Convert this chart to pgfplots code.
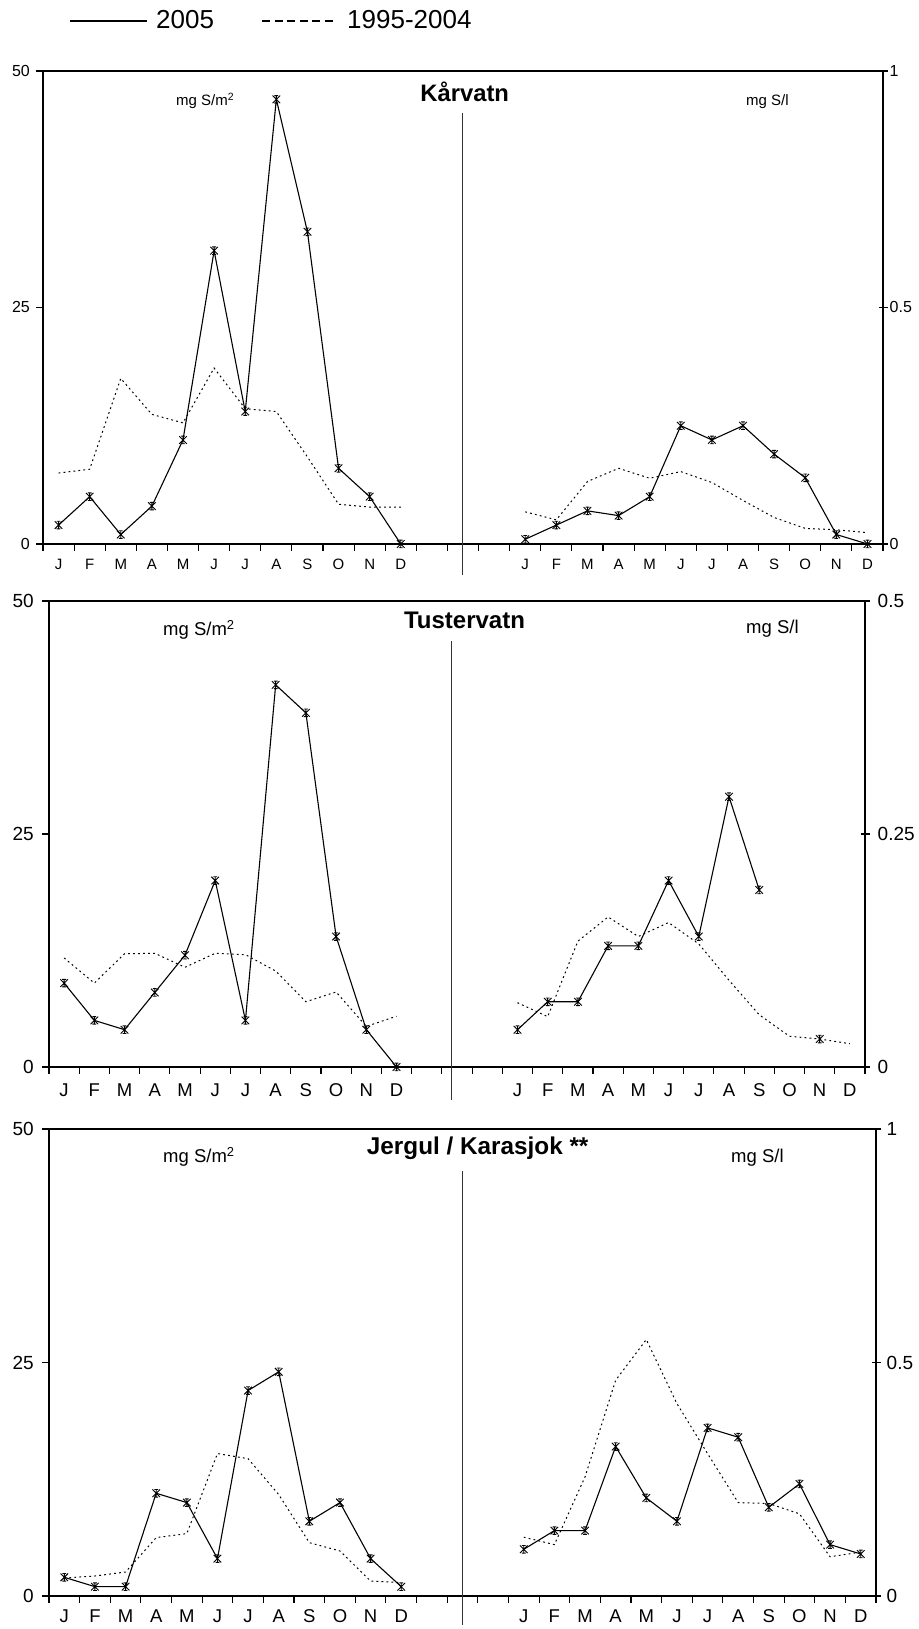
\documentclass[border=0pt]{standalone}
\usepackage{fontspec}
\setmainfont{Liberation Sans}
\usepackage{pgfplots}
\usepackage{pgfplotstable}
\pgfplotsset{compat=1.18}

\newcommand{\fs}[1]{\fontsize{#1}{#1}\selectfont}

% star marker: a cross with a vertical stroke and short caps
\pgfdeclareplotmark{xstar}{%
  \pgfpathmoveto{\pgfqpoint{-\pgfplotmarksize}{-\pgfplotmarksize}}%
  \pgfpathlineto{\pgfqpoint{\pgfplotmarksize}{\pgfplotmarksize}}%
  \pgfpathmoveto{\pgfqpoint{-\pgfplotmarksize}{\pgfplotmarksize}}%
  \pgfpathlineto{\pgfqpoint{\pgfplotmarksize}{-\pgfplotmarksize}}%
  \pgfpathmoveto{\pgfqpoint{0pt}{-\pgfplotmarksize}}%
  \pgfpathlineto{\pgfqpoint{0pt}{\pgfplotmarksize}}%
  \pgfpathmoveto{\pgfqpoint{-0.5\pgfplotmarksize}{\pgfplotmarksize}}%
  \pgfpathlineto{\pgfqpoint{0.5\pgfplotmarksize}{\pgfplotmarksize}}%
  \pgfpathmoveto{\pgfqpoint{-0.5\pgfplotmarksize}{-\pgfplotmarksize}}%
  \pgfpathlineto{\pgfqpoint{0.5\pgfplotmarksize}{-\pgfplotmarksize}}%
  \pgfusepathqstroke
}

% Kaarvatn: deposition (mg S/m2) and concentration (mg S/l), 2005 and 1995-2004 mean
\pgfplotstableread{
m s d
1 2 7.5
2 5 7.9
3 1 17.5
4 4 13.7
5 11 12.8
6 31 18.6
7 14 14.3
8 47 14.0
9 33 9.2
10 8 4.2
11 5 3.9
12 0 3.9
}\karL
\pgfplotstableread{
m s d
16 0.01 0.068
17 0.04 0.051
18 0.07 0.132
19 0.06 0.160
20 0.10 0.139
21 0.25 0.153
22 0.22 0.130
23 0.25 0.092
24 0.19 0.056
25 0.14 0.033
26 0.02 0.030
27 0 0.024
}\karR

% Tustervatn
\pgfplotstableread{
m s d
1 9 11.7
2 5 9.0
3 4 12.15
4 8 12.2
5 12 10.7
6 20 12.2
7 5 12.05
8 41 10.3
9 38 7.0
10 14 8.05
11 4 4.35
12 0 5.45
}\tusL
\pgfplotstableread{
m s d
16 0.04 0.069
17 0.07 0.054
18 0.07 0.135
19 0.13 0.161
20 0.13 0.140
21 0.20 0.155
22 0.14 0.132
23 0.29 0.093
24 0.19 0.056
25 nan 0.033
26 0.03 0.030
27 nan 0.025
}\tusR

% Jergul / Karasjok
\pgfplotstableread{
m s d
1 2 1.93
2 1 2.14
3 1 2.57
4 11 6.25
5 10 6.68
6 4 15.25
7 22 14.7
8 24 10.86
9 8 5.71
10 10 4.82
11 4 1.6
12 1 1.43
}\jerL
\pgfplotstableread{
m s d
16 0.10 0.126
17 0.14 0.110
18 0.14 0.255
19 0.32 0.462
20 0.21 0.549
21 0.16 0.412
22 0.36 0.305
23 0.34 0.200
24 0.19 0.198
25 0.24 0.176
26 0.11 0.084
27 0.09 0.094
}\jerR

\pgfplotsset{
  panel/.style={
    scale only axis, anchor=south west, clip=false,
    xmin=0.5, xmax=27.5,
    axis line style={black, line width=1.1pt},
    every tick/.style={black, line width=1.1pt},
    unbounded coords=jump,
  },
  leftax/.style={panel,
    ymin=0, ymax=50, ytick={0,25,50}, yticklabels={0,25,50},
    xtick={0.5,1.5,2.5,3.5,4.5,5.5,6.5,7.5,8.5,9.5,10.5,11.5,12.5,13.5,
           14.5,15.5,16.5,17.5,18.5,19.5,20.5,21.5,22.5,23.5,24.5,25.5,26.5,27.5},
    xticklabels={J,F,M,A,M,J,J,A,S,O,N,D,,,,J,F,M,A,M,J,J,A,S,O,N,D,},
    xtick pos=bottom, ytick pos=left, tick align=outside, major tick length=7pt,
  },
  rightax/.style={panel, axis x line=none, axis y line*=right,
    ymin=0, tick align=center, major tick length=9pt},
  s2005/.style={black, line width=1.1pt, mark=xstar, mark size=3.8pt,
    mark options={solid, line width=0.9pt}},
  smean/.style={black, line width=1pt, dash pattern=on 1.8pt off 3.2pt, mark=none},
}

\begin{document}
\begin{tikzpicture}
\useasboundingbox (0pt,0pt) rectangle (918pt,1629pt);

% legend
\draw[line width=1.3pt] (70pt,1608pt) -- (147pt,1608pt);
\node[anchor=base west, inner sep=0pt, font=\fs{26}] at (156pt,1600.7pt) {2005};
\draw[line width=1.3pt, dash pattern=on 8pt off 4.5pt] (262pt,1608pt) -- (337pt,1608pt);
\node[anchor=base west, inner sep=0pt, font=\fs{26}] at (347pt,1600.7pt) {1995-2004};

% ---------- Kaarvatn ----------
\begin{axis}[leftax, at={(43pt,1085pt)}, width=840pt, height=473pt,
  yticklabel style={font=\fs{16}, anchor=east, inner sep=0pt, xshift=-6pt},
  xticklabel style={font=\fs{15}, anchor=base, inner sep=0pt, xshift=15.56pt, yshift=-19pt}]
  \addplot[smean] table[x=m, y=d] {\karL};
  \addplot[s2005] table[x=m, y=s] {\karL};
\end{axis}
\begin{axis}[rightax, at={(43pt,1085pt)}, width=840pt, height=473pt,
  ymax=1, ytick={0,0.5,1}, yticklabels={0,0.5,1},
  yticklabel style={font=\fs{16}, anchor=west, inner sep=0pt, xshift=2pt}]
  \addplot[smean] table[x=m, y=d] {\karR};
  \addplot[s2005] table[x=m, y=s] {\karR};
\end{axis}
\draw[black!80, line width=1pt] (462.7pt,1516pt) -- (462.7pt,1054pt);
\node[anchor=base, inner sep=0pt, font=\bfseries\fs{23.8}] at (464.7pt,1527pt) {Kårvatn};
\node[anchor=base west, inner sep=0pt, font=\fs{15}] at (176pt,1523pt) {mg S/m\textsuperscript{2}};
\node[anchor=base west, inner sep=0pt, font=\fs{15}] at (746pt,1523pt) {mg S/l};

% ---------- Tustervatn ----------
\begin{axis}[leftax, at={(49pt,562pt)}, width=816pt, height=466pt,
  yticklabel style={font=\fs{19}, anchor=east, inner sep=0pt, xshift=-8pt},
  xticklabel style={font=\fs{18.5}, anchor=base, inner sep=0pt, xshift=15.11pt, yshift=-23pt}]
  \addplot[smean] table[x=m, y=d] {\tusL};
  \addplot[s2005] table[x=m, y=s] {\tusL};
\end{axis}
\begin{axis}[rightax, at={(49pt,562pt)}, width=816pt, height=466pt,
  ymax=0.5, ytick={0,0.25,0.5}, yticklabels={0,0.25,0.5},
  yticklabel style={font=\fs{19}, anchor=west, inner sep=0pt, xshift=8pt}]
  \addplot[smean] table[x=m, y=d] {\tusR};
  \addplot[s2005] table[x=m, y=s] {\tusR};
\end{axis}
\draw[black!80, line width=1pt] (451.5pt,988pt) -- (451.5pt,529pt);
\node[anchor=base, inner sep=0pt, font=\bfseries\fs{24}] at (464.5pt,1000pt) {Tustervatn};
\node[anchor=base west, inner sep=0pt, font=\fs{18.5}] at (163pt,993.2pt) {mg S/m\textsuperscript{2}};
\node[anchor=base west, inner sep=0pt, font=\fs{18.5}] at (746pt,995pt) {mg S/l};

% ---------- Jergul / Karasjok ----------
\begin{axis}[leftax, at={(49pt,33pt)}, width=827pt, height=467pt,
  yticklabel style={font=\fs{19}, anchor=east, inner sep=0pt, xshift=-8pt},
  xticklabel style={font=\fs{18.5}, anchor=base, inner sep=0pt, xshift=15.31pt, yshift=-19pt}]
  \addplot[smean] table[x=m, y=d] {\jerL};
  \addplot[s2005] table[x=m, y=s] {\jerL};
\end{axis}
\begin{axis}[rightax, at={(49pt,33pt)}, width=827pt, height=467pt,
  ymax=1, ytick={0,0.5,1}, yticklabels={0,0.5,1},
  yticklabel style={font=\fs{19}, anchor=west, inner sep=0pt, xshift=6pt}]
  \addplot[smean] table[x=m, y=d] {\jerR};
  \addplot[s2005] table[x=m, y=s] {\jerR};
\end{axis}
\draw[black!80, line width=1pt] (462.7pt,458pt) -- (462.7pt,4pt);
\node[anchor=base, inner sep=0pt, font=\bfseries\fs{24.3}] at (477.7pt,474pt) {Jergul / Karasjok **};
\node[anchor=base west, inner sep=0pt, font=\fs{18.5}] at (163pt,466pt) {mg S/m\textsuperscript{2}};
\node[anchor=base west, inner sep=0pt, font=\fs{18.5}] at (731pt,466pt) {mg S/l};
\end{tikzpicture}
\end{document}
